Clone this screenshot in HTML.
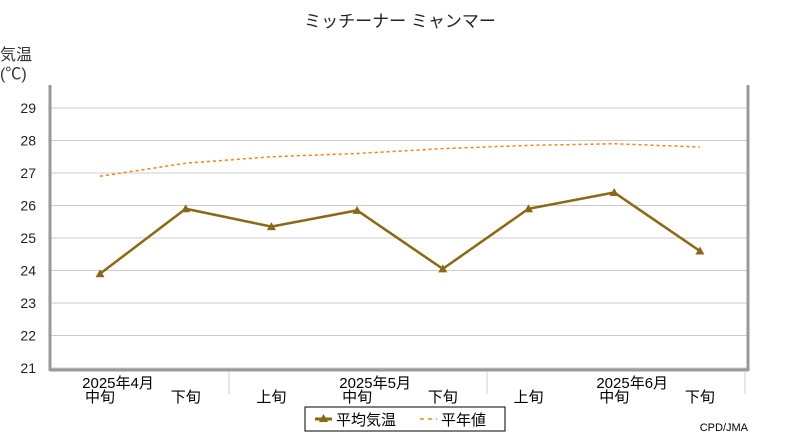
<!DOCTYPE html>
<html><head><meta charset="utf-8"><style>
body{margin:0;background:#fff}
svg text{font-family:"Liberation Sans","Noto Sans CJK JP",sans-serif}
</style></head><body>
<svg id="c" width="800" height="440" viewBox="0 0 800 440" xmlns="http://www.w3.org/2000/svg">
<text x="400" y="27" text-anchor="middle" font-size="17" fill="#222">ミッチーナー ミャンマー</text>
<text x="0" y="60" font-size="16" fill="#333">気温</text>
<text x="0" y="79" font-size="16" fill="#333">(℃)</text>
<g id="grid"></g>
<g id="series"></g>
<rect x="305" y="407" width="200" height="24" fill="#fff" stroke="#000"/>
<g>
<line x1="315" y1="419" x2="332" y2="419" stroke="#8B6914" stroke-width="3"/>
<polygon points="323.5,414 328,422 319,422" fill="#8B6914"/>
<text x="336" y="425" font-size="15" fill="#000">平均気温</text></g>
<g>
<line x1="420" y1="419" x2="437" y2="419" stroke="#FF7F0E" stroke-width="1.5" stroke-dasharray="4,4"/>
<text x="441" y="425" font-size="15" fill="#000">平年値</text></g>
<text x="748" y="431" text-anchor="end" font-size="11" font-family="Liberation Mono" fill="#000">CPD/JMA</text>
</svg>
<script>
const categories=["中旬","下旬","上旬","中旬","下旬","上旬","中旬","下旬"];
const monthLabels=["2025年4月","2025年5月","2025年6月"];
const meanTemp=[23.9,25.9,25.35,25.85,24.05,25.9,26.4,24.6];
const normalTemp=[26.9,27.3,27.5,27.6,27.75,27.85,27.9,27.8];
const yTicks=[21,22,23,24,25,26,27,28,29];
const NS="http://www.w3.org/2000/svg";
const L=50,R=748,T=85,B=369;
const y=v=>368-(v-21)*32.5;
const x=i=>100+i*85.7;
function mk(tag,attrs,parent){const e=document.createElementNS(NS,tag);for(const k in attrs)e.setAttribute(k,attrs[k]);parent.appendChild(e);return e;}
const g=document.getElementById('grid'),s=document.getElementById('series');
yTicks.forEach(v=>{
 const ln=mk('line',{x1:L,x2:R,y1:y(v),y2:y(v),stroke:'#ccc','stroke-width':1},g);
 
 
 const t=mk('text',{x:36,y:y(v)+5,'text-anchor':'end','font-size':14,fill:'#222'},g);t.textContent=v;
 
 
});
mk('line',{x1:L,x2:L,y1:T,y2:B+2,stroke:'#999','stroke-width':3},g);
mk('line',{x1:R,x2:R,y1:T,y2:B+2,stroke:'#999','stroke-width':3},g);
mk('line',{x1:L,x2:R,y1:B+1,y2:B+1,stroke:'#999','stroke-width':3},g);
[0,1,2].forEach(m=>{
 const sx=229+m*258;
 if(m<3) mk('line',{x1:sx,x2:sx,y1:372,y2:394,stroke:'#ccc'},g);
});
categories.forEach((c,i)=>{
 const t=mk('text',{x:x(i),y:402,'text-anchor':'middle','font-size':15,fill:'#000'},g);t.textContent=c;
 
 
});
monthLabels.forEach((m,k)=>{
 const t=mk('text',{x:x(k*3)+18,y:388,'text-anchor':'middle','font-size':15,fill:'#000'},g);t.textContent=m;
 
 
});
const np=mk('polyline',{points:normalTemp.map((v,i)=>x(i)+','+y(v)).join(' '),fill:'none',stroke:'#FF7F0E','stroke-width':1.5,'stroke-dasharray':'3,3'},s);


const mp=mk('polyline',{points:meanTemp.map((v,i)=>x(i)+','+y(v)).join(' '),fill:'none',stroke:'#8B6914','stroke-width':2.5},s);


meanTemp.forEach((v,i)=>{
 const px=x(i),py=y(v);
 const p=mk('polygon',{points:`${px},${py-4.5} ${px+4.5},${py+3.5} ${px-4.5},${py+3.5}`,fill:'#8B6914'},s);
 
 
});
</script>
</body></html>
